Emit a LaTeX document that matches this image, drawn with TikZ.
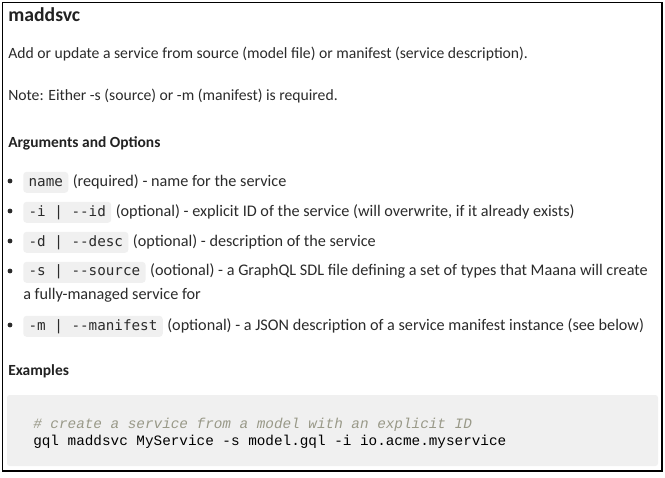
\documentclass[tikz,border=0pt]{standalone}
\usepackage{fontspec}
\setmainfont{Carlito}
\setmonofont{DejaVu Sans Mono}
\newfontfamily\courierfont{Liberation Mono}
\definecolor{txt}{HTML}{2B2B2B}
\definecolor{head}{HTML}{222222}
\definecolor{codebg}{HTML}{F0F0F0}
\definecolor{cmt}{HTML}{999988}
\tikzset{
  body/.style={anchor=base west, inner sep=0pt, text=txt, font=\fontsize{11.75pt}{13pt}\selectfont},
  bbody/.style={anchor=base west, inner sep=0pt, text=txt, font=\fontsize{12.15pt}{13pt}\selectfont},
  hd/.style={anchor=base west, inner sep=0pt, text=head, font=\fontsize{11.6pt}{13pt}\selectfont\bfseries},
  icode/.style={anchor=base west, fill=codebg, rounded corners=2.5pt, inner xsep=4pt, inner ysep=2.6pt,
    text height=8pt, text depth=2.5pt, text=txt, font=\fontsize{10.7pt}{12pt}\ttfamily},
  code/.style={anchor=base west, inner sep=0pt, font=\fontsize{10.75pt}{12pt}\courierfont},
  bul/.style={circle, fill=txt, inner sep=0pt, minimum size=3.6pt}
}
\begin{document}
\begin{tikzpicture}[x=0.75pt,y=-0.75pt]
\useasboundingbox (0,0) rectangle (665,478);
\fill[white] (0,0) rectangle (665,478);
\draw[line width=1pt, black] (2.5,2.5) rectangle (662,471);
% title and paragraphs
\node[hd, font=\fontsize{14.8pt}{16pt}\selectfont\bfseries] (title) at (8,22) {maddsvc};
\node[body] (p1) at (8,59) {Add or update a service from source (model file) or manifest (service description).};
\node[body] (p2) at (8,101) {Note: Either -s (source) or -m (manifest) is required.};
\node[hd] (args) at (8,147) {Arguments and Options};
% bullets
\node[bul] (b1) at (10,181) {};
\node[icode] (c1) at (23,186) {name};
\node[bbody] (d1) at ([xshift=3pt]c1.base east) {(required) - name for the service};
\node[bul] (b2) at (10,211) {};
\node[icode] (c2) at (23,216) {-i | -{}-id};
\node[bbody] (d2) at ([xshift=3pt]c2.base east) {(optional) - explicit ID of the service (will overwrite, if it already exists)};
\node[bul] (b3) at (10,241) {};
\node[icode] (c3) at (23,246) {-d | -{}-desc};
\node[bbody] (d3) at ([xshift=3pt]c3.base east) {(optional) - description of the service};
\node[bul] (b4) at (10,271) {};
\node[icode] (c4) at (23,276) {-s | -{}-source};
\node[bbody] (d4) at ([xshift=3pt]c4.base east) {(ootional) - a GraphQL SDL file defining a set of types that Maana will create};
\node[bbody] (d4b) at (23,299) {a fully-managed service for};
\node[bul] (b5) at (10,325) {};
\node[icode] (c5) at (23,330) {-m | -{}-manifest};
\node[bbody] (d5) at ([xshift=3pt]c5.base east) {(optional) - a JSON description of a service manifest instance (see below)};
% examples
\node[hd] (ex) at (8,375) {Examples};
\fill[codebg, rounded corners=2pt] (7,395) rectangle (658,466);
\node[code, text=cmt, font=\fontsize{10.75pt}{12pt}\courierfont\itshape] (cm) at (33,428) {\# create a service from a model with an explicit ID};
\node[code, text=black] (cmd) at (33,445) {gql maddsvc MyService -s model.gql -i io.acme.myservice};
\end{tikzpicture}
\end{document}
